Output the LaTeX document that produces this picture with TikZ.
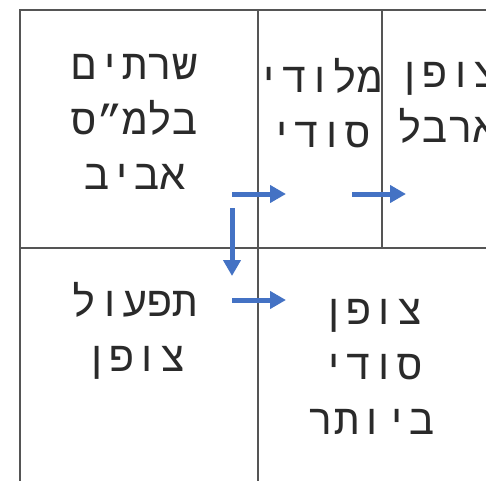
\documentclass[tikz,border=0pt]{standalone}
\usepackage{fontspec}
\newfontfamily\hebfont[Script=Hebrew]{Liberation Mono}
\TeXXeTstate=1
\usetikzlibrary{arrows.meta}
\newcommand{\heb}[1]{\beginR#1\endR}
\definecolor{flowblue}{HTML}{4472C4}
\definecolor{gridgray}{HTML}{555555}
\definecolor{textgray}{HTML}{2A2A2A}

\begin{document}
\begin{tikzpicture}[x=1pt,y=-1pt,
  cell/.style={align=center,text=textgray,font=\hebfont\fontsize{42}{55}\selectfont,inner sep=0pt},
  grid/.style={gridgray,line width=1.4pt},
  flow/.style={flowblue,line width=5pt,-{Triangle[length=16pt,width=17pt]}}]
  \clip (0,0) rectangle (486,481);
  \fill[white] (0,0) rectangle (486,481);

  % table lines
  \draw[grid] (486,10) -- (20,10) -- (20,481);
  \draw[grid] (20,248) -- (486,248);
  \draw[grid] (258,10) -- (258,481);
  \draw[grid] (382,10) -- (382,248);

  % cells
  \node[cell] (servers) at (135,122) {\heb{שרתים}\\\heb{בלמ”ס}\\\heb{אביב}};
  \node[cell] (melody) at (320,103) {\heb{מלודי}\\\heb{סודי}};
  \node[cell] (arbel) at (448,103) {\heb{צופן}\\\heb{ארבל}};
  \node[cell] (ops) at (135,331) {\heb{תפעול}\\\heb{צופן}};
  \node[cell] (topsecret) at (372,367) {\heb{צופן}\\\heb{סודי}\\\heb{ביותר}};

  % arrow ends
  \coordinate (a1) at (232,194);
  \coordinate (b1) at (286,194);
  \coordinate (a2) at (352,194);
  \coordinate (b2) at (406,194);
  \coordinate (a3) at (232,208);
  \coordinate (b3) at (232,276);
  \coordinate (a4) at (232,300);
  \coordinate (b4) at (286,300);

  \draw[flow] (a1) -- (b1);
  \draw[flow] (a2) -- (b2);
  \draw[flow] (a3) -- (b3);
  \draw[flow] (a4) -- (b4);
\end{tikzpicture}
\end{document}
